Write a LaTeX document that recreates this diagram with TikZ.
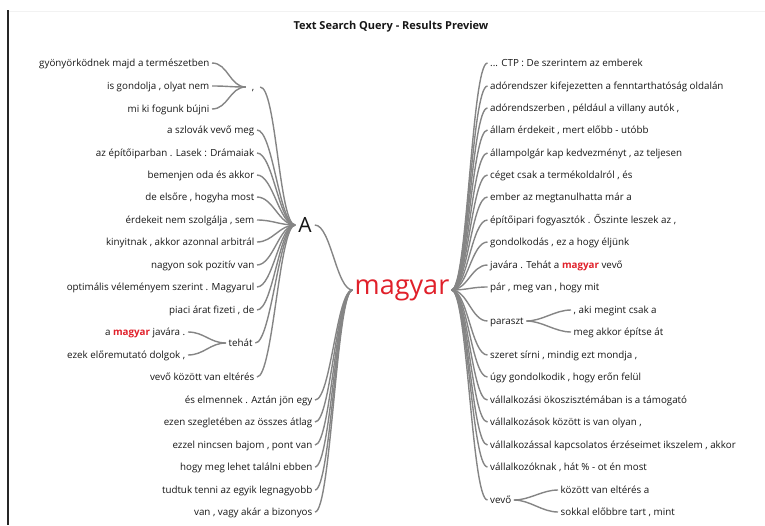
\documentclass[tikz,border=0pt]{standalone}
\usepackage{fontspec}
\setmainfont{Open Sans}
\usepackage{xcolor}
\usetikzlibrary{positioning, calc}
\definecolor{linkgray}{HTML}{858585}
\definecolor{hitred}{HTML}{E0202A}
\definecolor{ink}{HTML}{161616}
\newcommand{\hit}{\textcolor{hitred}{\textbf{magyar}}}

\begin{document}
\begin{tikzpicture}[
    x=1pt, y=-1pt,
    font=\fontsize{9.8}{11}\selectfont,
    word/.style={inner sep=2.5pt, text=ink, text height=1.6ex, text depth=.35ex},
    lw/.style={word, anchor=east},
    rw/.style={word, anchor=west},
    link/.style={draw=linkgray, line width=1.4pt, out=0, in=180,
                 out distance=16pt, in distance=16pt}]
    \useasboundingbox (0,0) rectangle (765,525);
    \draw[black!5, line width=0.8pt] (8,11) -- (765,11);
    \draw[black!85, line width=1.4pt] (8,10) -- (8,525);
    \node[font=\fontsize{11}{13}\selectfont\bfseries, text=ink] (ttl) at (391,27)
         {Text Search Query - Results Preview};
    % center and first level
    \node[text=hitred, font=\fontsize{27}{30}\selectfont, inner sep=2pt] (mag) at (402,290) {magyar};
    \node[text=ink, font=\fontsize{21}{24}\selectfont, inner sep=3pt] (hub) at (305,225) {A};
    \node[word, minimum width=14pt] (cm) at (253,87) {,};
    \node[word, anchor=west] (teh) at (226,343) {tehát};
    \node[rw] (par) at (487.5,321) {paraszt};
    \node[rw] (vev) at (487.5,500) {vevő};
    % left, under ","
    \node[lw] (g1) at (212,63)  {gyönyörködnek majd a természetben};
    \node[lw] (g2) at (212,86)  {is gondolja , olyat nem};
    \node[lw] (g3) at (212,109) {mi ki fogunk bújni};
    % left, under A
    \node[lw] (a1) at (257,130) {a szlovák vevő meg};
    \node[lw] (a2) at (257,153) {az építőiparban . Lasek : Drámaiak};
    \node[lw] (a3) at (257,175) {bemenjen oda és akkor};
    \node[lw] (a4) at (257,197) {de elsőre , hogyha most};
    \node[lw] (a5) at (257,220) {érdekeit nem szolgálja , sem};
    \node[lw] (a6) at (257,242) {kinyitnak , akkor azonnal arbitrál};
    \node[lw] (a7) at (257,265) {nagyon sok pozitív van};
    \node[lw] (a8) at (257,287) {optimális véleményem szerint . Magyarul};
    \node[lw] (a9) at (257,310) {piaci árat fizeti , de};
    \node[lw] (t1) at (188,332) {a \hit{} javára .};
    \node[lw] (t2) at (188,355) {ezek előremutató dolgok ,};
    \node[lw] (a10) at (257,377) {vevő között van eltérés};
    % left, under magyar
    \node[lw] (b1) at (315,400) {és elmennek . Aztán jön egy};
    \node[lw] (b2) at (315,422) {ezen szegletében az összes átlag};
    \node[lw] (b3) at (315,445) {ezzel nincsen bajom , pont van};
    \node[lw] (b4) at (315,467) {hogy meg lehet találni ebben};
    \node[lw] (b5) at (315,490) {tudtuk tenni az egyik legnagyobb};
    \node[lw] (b6) at (315,512) {van , vagy akár a bizonyos};
    % right, under magyar
    \node[rw] (r1)  at (487.5,63)  {... CTP : De szerintem az emberek};
    \node[rw] (r2)  at (487.5,86)  {adórendszer kifejezetten a fenntarthatóság oldalán};
    \node[rw] (r3)  at (487.5,108) {adórendszerben , például a villany autók ,};
    \node[rw] (r4)  at (487.5,130) {állam érdekeit , mert előbb - utóbb};
    \node[rw] (r5)  at (487.5,153) {állampolgár kap kedvezményt , az teljesen};
    \node[rw] (r6)  at (487.5,175) {céget csak a termékoldalról , és};
    \node[rw] (r7)  at (487.5,197) {ember az megtanulhatta már a};
    \node[rw] (r8)  at (487.5,220) {építőipari fogyasztók . Őszinte leszek az ,};
    \node[rw] (r9)  at (487.5,242) {gondolkodás , ez a hogy éljünk};
    \node[rw] (r10) at (487.5,265) {javára . Tehát a \hit{} vevő};
    \node[rw] (r11) at (487.5,287) {pár , meg van , hogy mit};
    \node[rw] (p1)  at (571,310)   {, aki megint csak a};
    \node[rw] (p2)  at (571,332)   {meg akkor építse át};
    \node[rw] (r12) at (487.5,355) {szeret sírni , mindig ezt mondja ,};
    \node[rw] (r13) at (487.5,377) {úgy gondolkodik , hogy erőn felül};
    \node[rw] (r14) at (487.5,400) {vállalkozási ökoszisztémában is a támogató};
    \node[rw] (r15) at (487.5,422) {vállalkozások között is van olyan ,};
    \node[rw] (r16) at (487.5,445) {vállalkozással kapcsolatos érzéseimet ikszelem , akkor};
    \node[rw] (r17) at (487.5,467) {vállalkozóknak , hát \% - ot én most};
    \node[rw] (v1)  at (558,490)   {között van eltérés a};
    \node[rw] (v2)  at (558,512)   {sokkal előbbre tart , mint};
    % links, left side
    \draw[link] (g1.east) to (cm.west);
    \draw[link] (g2.east) to (cm.west);
    \draw[link] (g3.east) to (cm.west);
    \draw[link] (cm.east) to (hub.west);
    \draw[link] (a1.east) to (hub.west);
    \draw[link] (a2.east) to (hub.west);
    \draw[link] (a3.east) to (hub.west);
    \draw[link] (a4.east) to (hub.west);
    \draw[link] (a5.east) to (hub.west);
    \draw[link] (a6.east) to (hub.west);
    \draw[link] (a7.east) to (hub.west);
    \draw[link] (a8.east) to (hub.west);
    \draw[link] (a9.east) to (hub.west);
    \draw[link] (t1.east) to (teh.west);
    \draw[link] (t2.east) to (teh.west);
    \draw[link] (teh.east) to (hub.west);
    \draw[link] (a10.east) to (hub.west);
    \draw[link] (hub.east) to (mag.west);
    \draw[link] (b1.east) to (mag.west);
    \draw[link] (b2.east) to (mag.west);
    \draw[link] (b3.east) to (mag.west);
    \draw[link] (b4.east) to (mag.west);
    \draw[link] (b5.east) to (mag.west);
    \draw[link] (b6.east) to (mag.west);
    % links, right side
    \draw[link] (mag.east) to (r1.west);
    \draw[link] (mag.east) to (r2.west);
    \draw[link] (mag.east) to (r3.west);
    \draw[link] (mag.east) to (r4.west);
    \draw[link] (mag.east) to (r5.west);
    \draw[link] (mag.east) to (r6.west);
    \draw[link] (mag.east) to (r7.west);
    \draw[link] (mag.east) to (r8.west);
    \draw[link] (mag.east) to (r9.west);
    \draw[link] (mag.east) to (r10.west);
    \draw[link] (mag.east) to (r11.west);
    \draw[link] (mag.east) to (par.west);
    \draw[link] (par.east) to (p1.west);
    \draw[link] (par.east) to (p2.west);
    \draw[link] (mag.east) to (r12.west);
    \draw[link] (mag.east) to (r13.west);
    \draw[link] (mag.east) to (r14.west);
    \draw[link] (mag.east) to (r15.west);
    \draw[link] (mag.east) to (r16.west);
    \draw[link] (mag.east) to (r17.west);
    \draw[link] (mag.east) to (vev.west);
    \draw[link] (vev.east) to (v1.west);
    \draw[link] (vev.east) to (v2.west);
\end{tikzpicture}
\end{document}
